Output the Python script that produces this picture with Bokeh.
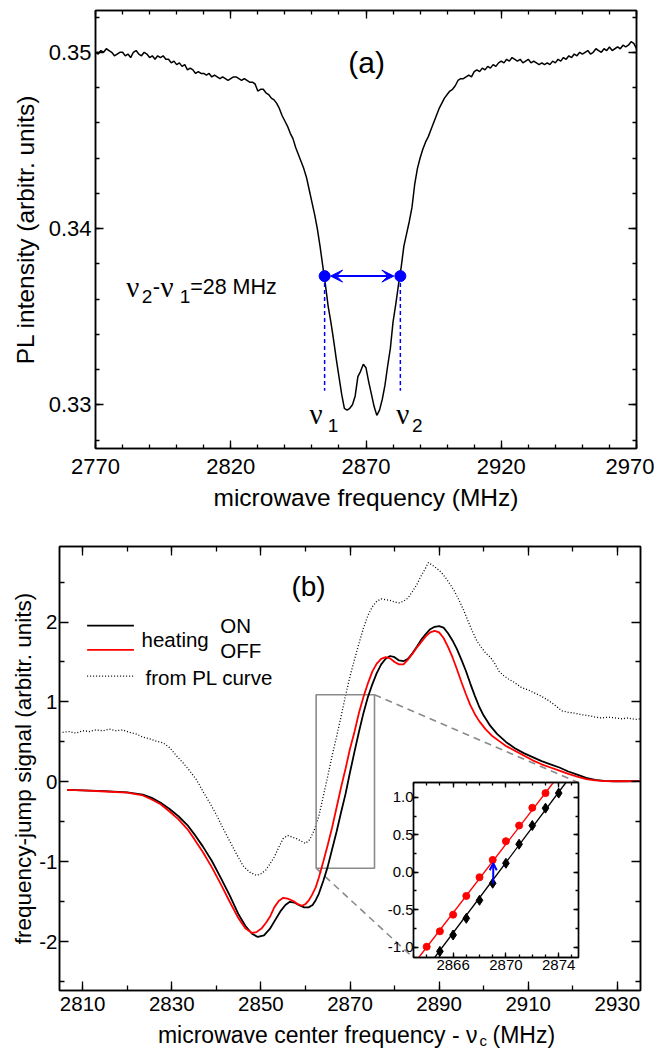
from bokeh.plotting import figure
from bokeh.models import (Range1d, FixedTicker, LinearAxis, NumeralTickFormatter,
                          Arrow, VeeHead, OpenHead, ColumnDataSource)
from bokeh.core.properties import value
from bokeh.embed import file_html
from bokeh.resources import INLINE

FONT = "Liberation Sans"
SERIF = "Liberation Serif"

# ---------------- panel (a) data ----------------
pl_freq = list(range(2770, 2971))
pl_int = [
    .3500, .3499, .3501, .3500, .3502, .3501, .3500, .3498, .3499, .3500,
    .3500, .3498, .3499, .3497, .3500, .3501, .3499, .3498, .3500, .3499,
    .3497, .3498, .3496, .3498, .3497, .3498, .3496, .3496, .3494, .3495,
    .3493, .3494, .3492, .3493, .3490, .3491, .3490, .3488, .3489, .3488,
    .3488, .3487, .3488, .3486, .3487, .3486, .3485, .3486, .3485, .3484,
    .3485, .3486, .3486, .3485, .3484, .3485, .3484, .3483, .3483, .3482,
    .3478, .3479, .3479, .3477, .3476, .3474, .3473, .3471, .3468, .3464,
    .3461, .3458, .3454, .3451, .3446, .3442, .3438, .3434, .3429, .3422,
    .3415, .3408, .3400, .3390, .3379, .3368, .3356, .3347, .3337, .3326,
    .3316, .3306, .3298, .3297, .3298, .3300, .3305, .3316, .3319, .3323,
    .3321, .3313, .3306, .3299, .3294, .3297, .3303, .3311, .3322, .3332,
    .3347, .3357, .3368, .3378, .3390, .3397, .3404, .3412, .3425, .3434,
    .3440, .3445, .3449, .3452, .3456, .3460, .3464, .3468, .3471, .3474,
    .3476, .3478, .3479, .3481, .3484, .3485, .3485, .3486, .3487, .3486,
    .3489, .3490, .3489, .3491, .3490, .3492, .3491, .3493, .3492, .3494,
    .3495, .3494, .3496, .3495, .3497, .3496, .3495, .3496, .3494, .3495,
    .3496, .3494, .3495, .3494, .3493, .3494, .3493, .3494, .3493, .3495,
    .3494, .3496, .3495, .3497, .3496, .3498, .3497, .3499, .3498, .3500,
    .3499, .3500, .3501, .3499, .3500, .3502, .3501, .3500, .3502, .3501,
    .3503, .3501, .3502, .3503, .3502, .3504, .3503, .3504, .3506, .3505,
    .3502,
]
nu_points = [2854.7, 2882.7]
nu_level = 0.3373
nu_dash_bottom = 0.3308

a_x_ticks = [2770, 2820, 2870, 2920, 2970]
a_y_ticks = [0.33, 0.34, 0.35]

# ---------------- panel (b) data ----------------
on_x = [2806.5, 2810, 2815, 2820, 2823.5, 2825.5, 2827.5, 2829.5, 2831.5, 2833.5,
        2835, 2837, 2839, 2841, 2843, 2845, 2846.5, 2848, 2849.3, 2850.7,
        2852, 2853.3, 2854.5, 2855.5, 2856.5, 2857.5, 2858.5, 2859.7, 2860.7, 2861.6,
        2862.3, 2863, 2864, 2865, 2866, 2867, 2868, 2869, 2870, 2871,
        2872, 2873, 2874, 2875, 2876, 2877, 2878, 2879, 2880, 2881,
        2882, 2883, 2884, 2885, 2886, 2887, 2888, 2889, 2890, 2891,
        2892, 2893, 2894, 2895, 2896, 2897, 2898, 2899, 2900, 2901.5,
        2903, 2905, 2907, 2909, 2911, 2913, 2915, 2917, 2919, 2921,
        2923, 2925, 2927, 2929, 2932, 2935]
on_y = [-0.10, -0.105, -0.115, -0.13, -0.16, -0.20, -0.26, -0.34, -0.43, -0.54,
        -0.65, -0.81, -0.99, -1.20, -1.42, -1.66, -1.80, -1.90, -1.94, -1.92,
        -1.84, -1.72, -1.61, -1.54, -1.50, -1.51, -1.54, -1.57, -1.57, -1.54,
        -1.48, -1.40, -1.24, -1.06, -0.84, -0.62, -0.38, -0.15, 0.12, 0.375,
        0.625, 0.857, 1.058, 1.22, 1.36, 1.47, 1.54, 1.575, 1.56, 1.52,
        1.51, 1.54, 1.61, 1.69, 1.78, 1.85, 1.91, 1.94, 1.95, 1.93,
        1.86, 1.77, 1.66, 1.53, 1.39, 1.23, 1.08, 0.94, 0.83, 0.70,
        0.60, 0.50, 0.42, 0.36, 0.31, 0.26, 0.22, 0.18, 0.13, 0.09,
        0.05, 0.025, 0.012, 0.008, 0.008, 0.010]

off_x = [2806.5, 2810, 2815, 2820, 2823.5, 2825.5, 2827.5, 2829.5, 2831.5, 2833.5,
         2835, 2837, 2839, 2841, 2843, 2845, 2846.5, 2848, 2849, 2850.2,
         2851.2, 2852.1, 2853, 2854, 2855, 2856, 2857.3, 2858.3, 2859.2, 2860,
         2860.8, 2861.5, 2862.3, 2863, 2864, 2865, 2866, 2867, 2868, 2869,
         2870, 2871, 2872, 2873, 2874, 2875, 2876, 2877, 2878, 2879,
         2880, 2881, 2882, 2883, 2884, 2885, 2886, 2887, 2888, 2889,
         2890, 2891, 2892, 2893, 2894, 2895, 2896, 2897, 2898, 2899,
         2900.4, 2902, 2903.5, 2905, 2907, 2909, 2911, 2913, 2915, 2917,
         2919, 2921, 2923, 2925, 2927, 2930, 2935]
off_y = [-0.10, -0.105, -0.12, -0.135, -0.17, -0.22, -0.28, -0.37, -0.47, -0.59,
         -0.71, -0.88, -1.07, -1.28, -1.50, -1.71, -1.83, -1.89, -1.88, -1.83,
         -1.76, -1.68, -1.57, -1.49, -1.45, -1.46, -1.49, -1.53, -1.55, -1.53,
         -1.48, -1.41, -1.32, -1.20, -1.0, -0.79, -0.567, -0.317, -0.067, 0.165,
         0.415, 0.625, 0.862, 1.058, 1.23, 1.38, 1.48, 1.54, 1.56, 1.545,
         1.50, 1.47, 1.47, 1.53, 1.60, 1.68, 1.75, 1.82, 1.87, 1.89,
         1.87, 1.80, 1.69, 1.56, 1.41, 1.25, 1.10, 0.96, 0.85, 0.76,
         0.66, 0.57, 0.51, 0.45, 0.39, 0.33, 0.27, 0.22, 0.18, 0.14,
         0.10, 0.065, 0.035, 0.018, 0.010, 0.008, 0.010]

plc_x = [2805.5, 2807, 2808.5, 2810, 2811.5, 2813, 2814.5, 2816, 2817.5, 2819,
         2820.5, 2822, 2823.5, 2825, 2826.5, 2828, 2829.5, 2831, 2832.5, 2834,
         2835.5, 2837, 2838.5, 2840, 2841.5, 2843, 2844.5, 2846, 2847.5, 2849,
         2850, 2851, 2852, 2853, 2854, 2855, 2856, 2857, 2858, 2859,
         2860, 2861, 2862, 2863, 2864, 2865, 2866, 2867, 2868, 2869,
         2870, 2871, 2872, 2873, 2874, 2875, 2876, 2877, 2878, 2879,
         2880, 2881, 2882, 2883, 2884, 2885, 2886, 2887, 2887.6, 2888.5,
         2889.5, 2890.5, 2891.5, 2892.5, 2893.5, 2894.5, 2895.5, 2896.5, 2897.5, 2898.5,
         2899.5, 2900.5, 2901.5, 2902.5, 2903.5, 2904.5, 2905.5, 2907, 2908.5, 2910,
         2911.5, 2913, 2914.5, 2916, 2917.5, 2919, 2920.5, 2922, 2923.5, 2925,
         2926.5, 2928, 2929.5, 2931, 2932.5, 2934, 2935.2]
plc_y = [0.62, 0.63, 0.61, 0.64, 0.63, 0.65, 0.64, 0.66, 0.64, 0.65,
         0.62, 0.60, 0.56, 0.54, 0.51, 0.49, 0.43, 0.33, 0.24, 0.14,
         0.03, -0.12, -0.26, -0.41, -0.58, -0.74, -0.90, -1.05, -1.13, -1.17,
         -1.15, -1.11, -1.03, -0.94, -0.82, -0.71, -0.67, -0.69, -0.71, -0.74,
         -0.77, -0.72, -0.60, -0.43, -0.18, 0.07, 0.33, 0.57, 0.82, 1.08,
         1.32, 1.53, 1.73, 1.92, 2.08, 2.19, 2.26, 2.29, 2.28, 2.27,
         2.25, 2.24, 2.26, 2.30, 2.38, 2.47, 2.58, 2.68, 2.745, 2.71,
         2.67, 2.62, 2.55, 2.47, 2.38, 2.27, 2.15, 2.01, 1.88, 1.76,
         1.68, 1.61, 1.56, 1.48, 1.38, 1.33, 1.29, 1.24, 1.18, 1.15,
         1.11, 1.07, 1.02, 0.96, 0.89, 0.87, 0.86, 0.84, 0.83, 0.81,
         0.80, 0.81, 0.80, 0.79, 0.80, 0.78, 0.79]

b_x_ticks = [2810, 2830, 2850, 2870, 2890, 2910, 2930]
b_y_ticks = [-2, -1, 0, 1, 2]

# zoom box and connectors (main-plot data units)
box_x = [2862.4, 2875.5]
box_y = [-1.08, 1.09]
inset_corner_tr = (2921.3, -0.01)
inset_corner_bl = (2884.2, -2.20)

# ---------------- inset data ----------------
in_off_x = [2864, 2865, 2866, 2867, 2868, 2869, 2870, 2871, 2872, 2873]
in_off_y = [-0.996, -0.79, -0.567, -0.317, -0.067, 0.165, 0.415, 0.625, 0.862, 1.058]
in_on_x = [2865, 2866, 2867, 2868, 2869, 2870, 2871, 2872, 2873, 2874]
in_on_y = [-1.058, -0.839, -0.616, -0.375, -0.147, 0.12, 0.375, 0.625, 0.857, 1.058]
in_off_fit_x = [2863.4, 2873.6]
in_off_fit_y = [-1.14, 1.2]
in_on_fit_x = [2864.6, 2874.55]
in_on_fit_y = [-1.14, 1.2]
in_arrow = (2869.04, -0.15, 0.12)
in_x_ticks = [2866, 2870, 2874]
in_y_ticks = [-1.0, -0.5, 0.0, 0.5, 1.0]

# x-axis title of panel (b) (with subscript c)
xlabel_parts = ["microwave center frequency - ν", "c", "(MHz)"]


def style_axis(ax, ticks, minor, fmt, fs, tin, tmin, standoff,
               label_fs=None, label_standoff=5, labels=True):
    ax.ticker = FixedTicker(ticks=ticks, minor_ticks=minor)
    ax.formatter = NumeralTickFormatter(format=fmt)
    ax.major_tick_in = tin
    ax.major_tick_out = 0
    ax.minor_tick_in = tmin
    ax.minor_tick_out = 0
    ax.major_tick_line_width = 1.3
    ax.minor_tick_line_width = 1.3
    ax.major_tick_line_color = "black"
    ax.minor_tick_line_color = "black"
    ax.axis_line_color = "black"
    ax.axis_line_width = 1.5
    ax.major_label_text_font = FONT
    if labels:
        ax.major_label_text_color = "black"
        ax.major_label_text_font_size = f"{fs}px"
        ax.major_label_standoff = standoff
    else:
        ax.major_label_text_color = None
        ax.major_label_text_font_size = "1px"
        ax.major_label_standoff = 0
    ax.axis_label_text_font = FONT
    ax.axis_label_text_font_style = "normal"
    ax.axis_label_text_color = "black"
    if label_fs:
        ax.axis_label_text_font_size = f"{label_fs}px"
    ax.axis_label_standoff = label_standoff


def mirror(p, xt, xm, yt, ym, tin, tmin):
    top = LinearAxis()
    style_axis(top, xt, xm, "0", 0, tin, tmin, 0, labels=False)
    p.add_layout(top, "above")
    right = LinearAxis()
    style_axis(right, yt, ym, "0", 0, tin, tmin, 0, labels=False)
    p.add_layout(right, "right")


def place(p, left, top):
    p.styles = {"position": "absolute", "left": f"{left}px", "top": f"{top}px"}


# ======================= panel (a) =======================
pa = figure(width=646, height=512, x_range=Range1d(2770, 2970),
            y_range=Range1d(0.32752, 0.35237), output_backend="svg",
            toolbar_location=None, min_border_left=86, min_border_right=18,
            min_border_top=2, min_border_bottom=72,
            background_fill_color="white", border_fill_color="white",
            outline_line_color="black", outline_line_width=1.5)
pa.xgrid.visible = False
pa.ygrid.visible = False
a_x_minor = list(range(2770, 2971, 10))
a_y_minor = [round(0.328 + 0.002 * i, 3) for i in range(13)]
xa = pa.below[0]
ya = pa.left[0]
xa.axis_label = "microwave frequency (MHz)"
ya.axis_label = "PL intensity (arbitr. units)"
style_axis(xa, a_x_ticks, a_x_minor, "0", 22, 8, 4, 10, label_fs=24.5, label_standoff=7)
style_axis(ya, a_y_ticks, a_y_minor, "0.00", 22, 8, 4, 4, label_fs=24.5, label_standoff=7)
mirror(pa, a_x_ticks, a_x_minor, a_y_ticks, a_y_minor, 8, 4)

pa.line(pl_freq, pl_int, line_color="black", line_width=1.5)

pa.segment(x0=nu_points, y0=[nu_level] * 2, x1=nu_points, y1=[nu_dash_bottom] * 2,
           line_color="blue", line_width=1.5, line_dash="4 3")
pa.add_layout(Arrow(start=VeeHead(size=12, fill_color="blue", line_color="blue"),
                    end=VeeHead(size=12, fill_color="blue", line_color="blue"),
                    x_start=nu_points[0] + 2.2, y_start=nu_level,
                    x_end=nu_points[1] - 2.4, y_end=nu_level,
                    line_color="blue", line_width=2))
pa.scatter(nu_points, [nu_level] * 2, size=11, color="blue")

ann_src = ColumnDataSource(dict(
    text=["ν", "2", "-", "ν", "1", "=28 MHz", "ν", "1", "ν", "2", "(a)"],
    x=[2781.4, 2787.1, 2791.2, 2794.0, 2801.1, 2805.0, 2849.1, 2855.9, 2881.2, 2887.0, 2870.2],
    y=[0.33669, 0.33612, 0.33669, 0.33669, 0.33612, 0.33669,
       0.32947, 0.3288, 0.32947, 0.3288, 0.3494],
    font=[SERIF, FONT, FONT, SERIF, FONT, FONT, SERIF, FONT, SERIF, FONT, FONT],
    size=["29px", "19px", "22px", "29px", "19px", "21.5px", "29px", "19px", "29px", "19px", "30px"],
    align=["left"] * 10 + ["center"],
))
pa.text(x="x", y="y", text="text", source=ann_src, text_font="font",
        text_font_size="size", text_align="align", text_baseline="alphabetic",
        text_color="black")

# ======================= panel (b) =======================
pb = figure(width=646, height=524, x_range=Range1d(2804.8, 2935.2),
            y_range=Range1d(-2.61, 2.945), output_backend="svg",
            toolbar_location=None, min_border_left=51, min_border_right=14,
            min_border_top=26, min_border_bottom=54,
            background_fill_color="white", border_fill_color="white",
            outline_line_color="black", outline_line_width=1.5)
pb.xgrid.visible = False
pb.ygrid.visible = False
b_x_minor = list(range(2810, 2935, 10))
b_y_minor = [-2.5, -1.5, -0.5, 0.5, 1.5, 2.5]
xb = pb.below[0]
yb = pb.left[0]
yb.axis_label = "frequency-jump signal (arbitr. units)"
style_axis(xb, b_x_ticks, b_x_minor, "0", 20.5, 9, 5, 6)
style_axis(yb, b_y_ticks, b_y_minor, "0", 20.5, 9, 5, 2, label_fs=22.5, label_standoff=0)
mirror(pb, b_x_ticks, b_x_minor, b_y_ticks, b_y_minor, 9, 5)

pb.line(plc_x, plc_y, line_color="black", line_width=1.3, line_dash="1 2")
pb.quad(left=[box_x[0]], right=[box_x[1]], bottom=[box_y[0]], top=[box_y[1]],
        fill_alpha=0, line_color="#8a8a8a", line_width=1.6)
pb.segment(x0=[box_x[1], box_x[0]], y0=[box_y[1], box_y[0]],
           x1=[inset_corner_tr[0], inset_corner_bl[0]],
           y1=[inset_corner_tr[1], inset_corner_bl[1]],
           line_color="#8a8a8a", line_width=1.6, line_dash="7 5")
pb.line(on_x, on_y, line_color="black", line_width=1.8)
pb.line(off_x, off_y, line_color="#ff0000", line_width=1.8)

# legend (hand-placed like the original)
leg_x = [2811.0, 2821.5]
pb.line(leg_x, [1.956, 1.956], line_color="black", line_width=1.8)
pb.line(leg_x, [1.652, 1.652], line_color="#ff0000", line_width=1.8)
pb.line(leg_x, [1.322, 1.322], line_color="black", line_width=1.3, line_dash="1 2")
leg_src = ColumnDataSource(dict(
    text=["heating", "ON", "OFF", "from PL curve", "(b)"],
    x=[2823.2, 2840.9, 2840.9, 2824.1, 2860.7],
    y=[1.781, 1.956, 1.643, 1.305, 2.444],
    size=["20.5px", "20.5px", "20.5px", "20.5px", "28px"],
    align=["left", "left", "left", "left", "center"],
))
pb.text(x="x", y="y", text="text", source=leg_src, text_font=value(FONT),
        text_font_size="size", text_align="align", text_baseline="middle",
        text_color="black")

# ======================= inset =======================
pin = figure(width=205, height=202, x_range=Range1d(2863.0, 2875.5),
             y_range=Range1d(-1.14, 1.2), output_backend="svg",
             toolbar_location=None, min_border_left=35, min_border_right=5,
             min_border_top=5, min_border_bottom=22,
             background_fill_color="white", border_fill_alpha=0,
             outline_line_color="black", outline_line_width=1.3)
pin.xgrid.visible = False
pin.ygrid.visible = False
in_x_minor = list(range(2863, 2876))
in_y_minor = [-1.0, -0.75, -0.5, -0.25, 0.0, 0.25, 0.5, 0.75, 1.0]
style_axis(pin.below[0], in_x_ticks, in_x_minor, "0", 15, 5, 3, 2)
style_axis(pin.left[0], in_y_ticks, in_y_minor, "0.0", 15, 5, 3, 0)
mirror(pin, in_x_ticks, in_x_minor, in_y_ticks, in_y_minor, 5, 3)

pin.line(in_off_fit_x, in_off_fit_y, line_color="#ff0000", line_width=1.3)
pin.line(in_on_fit_x, in_on_fit_y, line_color="black", line_width=1.3)
pin.scatter(in_off_x, in_off_y, marker="circle", size=7, color="#ff0000")
pin.scatter(in_on_x, in_on_y, marker="diamond", size=10, color="black")
pin.add_layout(Arrow(end=OpenHead(size=7, line_color="blue", line_width=2),
                     x_start=in_arrow[0], y_start=in_arrow[1],
                     x_end=in_arrow[0], y_end=in_arrow[2],
                     line_color="blue", line_width=2))

# ============ strip carrying the x title of panel (b) ============
pxl = figure(width=646, height=40, x_range=Range1d(0, 646), y_range=Range1d(40, 0),
             x_axis_type=None, y_axis_type=None, output_backend="svg",
             toolbar_location=None, min_border=0, border_fill_alpha=0,
             background_fill_alpha=0, outline_line_color=None)
xl_src = ColumnDataSource(dict(
    text=xlabel_parts, x=[469, 471, 484], y=[26, 32, 26],
    size=["23px", "15px", "23px"], align=["right", "left", "left"],
))
pxl.text(x="x", y="y", text="text", source=xl_src, text_font=value(FONT),
         text_font_size="size", text_align="align", text_baseline="alphabetic",
         text_color="black")

# absolute placement on the page (no layout alignment between panels)
place(pa, 8, 8)
place(pb, 8, 520)
place(pin, 378, 777)
place(pxl, 8, 1008)

open("out.html", "w").write(file_html([pa, pb, pin, pxl], INLINE))
